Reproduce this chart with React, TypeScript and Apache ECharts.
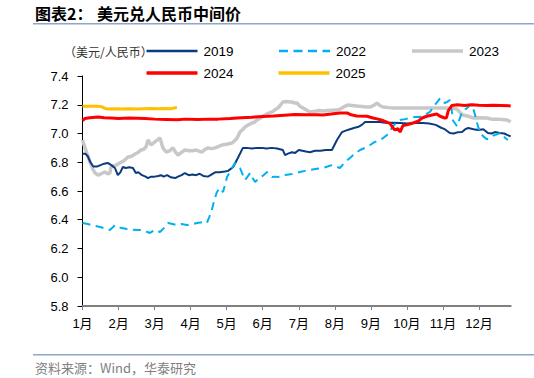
import React, { useEffect, useRef } from "react";
import * as echarts from "echarts";

// x = month index (0 = start of Jan, 11 = start of Dec), y = USD/CNY central parity
const monthLabels = ["1月", "2月", "3月", "4月", "5月", "6月", "7月", "8月", "9月", "10月", "11月", "12月"];
const yTicks = [5.8, 6.0, 6.2, 6.4, 6.6, 6.8, 7.0, 7.2, 7.4];
const seriesNames = ["2019", "2022", "2023", "2024", "2025"];

const s2019: [number, number][] = [
  [0, 6.86], [0.08, 6.86], [0.15, 6.84], [0.22, 6.8], [0.3, 6.77], [0.4, 6.77], [0.5, 6.78], [0.6, 6.79],
  [0.7, 6.795], [0.8, 6.78], [0.9, 6.76], [0.98, 6.71], [1.05, 6.73], [1.12, 6.767], [1.2, 6.76], [1.3, 6.765],
  [1.4, 6.76], [1.48, 6.725], [1.55, 6.73], [1.65, 6.71], [1.75, 6.7], [1.82, 6.69], [1.9, 6.7], [2.0, 6.7],
  [2.1, 6.705], [2.18, 6.71], [2.25, 6.7], [2.35, 6.71], [2.45, 6.695], [2.57, 6.69], [2.65, 6.7], [2.75, 6.71],
  [2.84, 6.725], [2.95, 6.71], [3.05, 6.715], [3.15, 6.71], [3.25, 6.72], [3.35, 6.705], [3.48, 6.7], [3.55, 6.71],
  [3.68, 6.73], [3.8, 6.73], [3.95, 6.735], [4.04, 6.74], [4.18, 6.767], [4.31, 6.83], [4.45, 6.9], [4.55, 6.9],
  [4.7, 6.895], [4.85, 6.9], [4.98, 6.9], [5.1, 6.895], [5.25, 6.9], [5.4, 6.895], [5.56, 6.885], [5.62, 6.85],
  [5.7, 6.86], [5.81, 6.87], [5.9, 6.865], [6.0, 6.885], [6.1, 6.88], [6.2, 6.875], [6.31, 6.87], [6.45, 6.88],
  [6.6, 6.88], [6.75, 6.885], [6.92, 6.885], [7.06, 6.955], [7.2, 7.01], [7.3, 7.02], [7.42, 7.03], [7.55, 7.04],
  [7.64, 7.045], [7.75, 7.06], [7.84, 7.08], [8.0, 7.08], [8.25, 7.08], [8.45, 7.073], [8.6, 7.075], [8.81, 7.073],
  [9.0, 7.07], [9.2, 7.073], [9.45, 7.073], [9.62, 7.07], [9.8, 7.06], [9.95, 7.04], [10.05, 7.03], [10.19, 7.003],
  [10.3, 7.0], [10.4, 7.008], [10.53, 7.01], [10.62, 7.03], [10.7, 7.038], [10.85, 7.03], [10.98, 7.024],
  [11.12, 7.03], [11.25, 7.003], [11.35, 7.0], [11.44, 7.01], [11.58, 7.003], [11.7, 7.0], [11.78, 6.99], [11.88, 6.98],
];

const s2022: [number, number][] = [
  [0, 6.377], [0.15, 6.37], [0.3, 6.36], [0.49, 6.35], [0.62, 6.34], [0.76, 6.329], [0.85, 6.35], [0.9, 6.363],
  [1.05, 6.345], [1.23, 6.336], [1.4, 6.33], [1.6, 6.329], [1.75, 6.32], [1.87, 6.308], [2.01, 6.329], [2.15, 6.315],
  [2.25, 6.34], [2.37, 6.377], [2.5, 6.37], [2.62, 6.363], [2.75, 6.37], [2.9, 6.363], [3.05, 6.37], [3.18, 6.377],
  [3.34, 6.384], [3.45, 6.377], [3.52, 6.42], [3.59, 6.47], [3.66, 6.54], [3.73, 6.593], [3.81, 6.621], [3.9, 6.593],
  [4.01, 6.697], [4.15, 6.76], [4.23, 6.795], [4.3, 6.78], [4.37, 6.76], [4.45, 6.71], [4.51, 6.677], [4.58, 6.7],
  [4.65, 6.725], [4.72, 6.69], [4.79, 6.663], [4.86, 6.68], [4.92, 6.69], [5.02, 6.71], [5.12, 6.732], [5.2, 6.71],
  [5.26, 6.697], [5.34, 6.7], [5.42, 6.697], [5.52, 6.705], [5.62, 6.711], [5.72, 6.715], [5.81, 6.718], [5.92, 6.725],
  [6.03, 6.732], [6.17, 6.74], [6.31, 6.746], [6.5, 6.755], [6.67, 6.76], [6.8, 6.77], [6.92, 6.78], [7.03, 6.77],
  [7.14, 6.76], [7.28, 6.8], [7.42, 6.83], [7.56, 6.86], [7.7, 6.885], [7.84, 6.9], [7.98, 6.92], [8.1, 6.94],
  [8.25, 6.955], [8.35, 6.97], [8.45, 6.99], [8.52, 7.01], [8.58, 7.038], [8.65, 7.06], [8.72, 7.08], [8.81, 7.094],
  [8.95, 7.1], [9.1, 7.108], [9.22, 7.115], [9.36, 7.115], [9.5, 7.13], [9.64, 7.15], [9.75, 7.19], [9.86, 7.225],
  [9.92, 7.245], [9.98, 7.225], [10.05, 7.212], [10.12, 7.22], [10.19, 7.233], [10.25, 7.15], [10.28, 7.09],
  [10.33, 7.073], [10.39, 7.05], [10.46, 7.1], [10.53, 7.15], [10.6, 7.165], [10.67, 7.177], [10.75, 7.2],
  [10.8, 7.198], [10.85, 7.165], [10.89, 7.13], [10.95, 7.07], [11.03, 7.005], [11.12, 6.98], [11.22, 6.96],
  [11.3, 6.97], [11.39, 6.985], [11.5, 6.995], [11.58, 7.003], [11.64, 7.0], [11.72, 6.97], [11.8, 6.955],
];

const s2023: [number, number][] = [
  [0, 6.955], [0.07, 6.9], [0.14, 6.85], [0.21, 6.8], [0.29, 6.75], [0.35, 6.725], [0.43, 6.711], [0.52, 6.72],
  [0.62, 6.732], [0.7, 6.72], [0.76, 6.725], [0.79, 6.767], [0.86, 6.775], [0.93, 6.78], [1.0, 6.79], [1.07, 6.8],
  [1.15, 6.81], [1.26, 6.836], [1.35, 6.84], [1.46, 6.857], [1.55, 6.87], [1.62, 6.885], [1.7, 6.89], [1.76, 6.906],
  [1.82, 6.955], [1.9, 6.92], [2.0, 6.94], [2.08, 6.955], [2.15, 6.969], [2.23, 6.9], [2.32, 6.871], [2.42, 6.88],
  [2.51, 6.9], [2.58, 6.87], [2.65, 6.85], [2.75, 6.87], [2.84, 6.885], [2.95, 6.88], [3.05, 6.88], [3.15, 6.885],
  [3.31, 6.871], [3.4, 6.89], [3.48, 6.9], [3.58, 6.895], [3.68, 6.9], [3.78, 6.91], [3.87, 6.92], [4.0, 6.925],
  [4.15, 6.934], [4.22, 6.95], [4.29, 6.969], [4.37, 7.01], [4.45, 7.03], [4.51, 7.045], [4.6, 7.06], [4.7, 7.073],
  [4.78, 7.08], [4.84, 7.094], [4.95, 7.11], [5.06, 7.129], [5.15, 7.14], [5.26, 7.15], [5.34, 7.165], [5.42, 7.177],
  [5.5, 7.2], [5.56, 7.219], [5.65, 7.222], [5.76, 7.219], [5.81, 7.219], [5.89, 7.212], [5.95, 7.212], [6.03, 7.19],
  [6.12, 7.177], [6.2, 7.165], [6.31, 7.15], [6.45, 7.155], [6.56, 7.16], [6.67, 7.157], [6.8, 7.16], [6.95, 7.162],
  [7.06, 7.163], [7.15, 7.17], [7.25, 7.185], [7.36, 7.198], [7.48, 7.195], [7.61, 7.191], [7.75, 7.188],
  [7.88, 7.185], [7.98, 7.184], [8.08, 7.195], [8.17, 7.212], [8.25, 7.195], [8.34, 7.184], [8.5, 7.18],
  [8.65, 7.178], [8.81, 7.177], [9.0, 7.177], [9.2, 7.178], [9.4, 7.177], [9.64, 7.177], [9.85, 7.177],
  [10.05, 7.177], [10.25, 7.175], [10.39, 7.17], [10.46, 7.15], [10.55, 7.129], [10.7, 7.12], [10.83, 7.108],
  [11.0, 7.11], [11.22, 7.108], [11.35, 7.1], [11.5, 7.1], [11.65, 7.098], [11.78, 7.094], [11.88, 7.082],
];

const s2024: [number, number][] = [
  [0, 7.09], [0.07, 7.105], [0.2, 7.11], [0.43, 7.115], [0.6, 7.11], [0.79, 7.108], [1.0, 7.105], [1.3, 7.108],
  [1.73, 7.105], [2.0, 7.1], [2.3, 7.098], [2.65, 7.095], [2.84, 7.1], [3.2, 7.098], [3.5, 7.1], [3.76, 7.1],
  [4.1, 7.105], [4.4, 7.11], [4.7, 7.113], [5.0, 7.118], [5.3, 7.122], [5.6, 7.127], [5.89, 7.132], [6.2, 7.13],
  [6.5, 7.13], [6.67, 7.129], [6.9, 7.135], [7.14, 7.143], [7.34, 7.143], [7.45, 7.13], [7.61, 7.122], [7.89, 7.12],
  [8.06, 7.108], [8.2, 7.1], [8.34, 7.09], [8.53, 7.07], [8.61, 7.04], [8.67, 7.024], [8.75, 7.035], [8.81, 7.01],
  [8.89, 7.055], [9.0, 7.06], [9.17, 7.073], [9.31, 7.085], [9.42, 7.108], [9.55, 7.12], [9.7, 7.129], [9.83, 7.135],
  [9.92, 7.12], [10.05, 7.108], [10.1, 7.11], [10.15, 7.16], [10.25, 7.195], [10.4, 7.2], [10.6, 7.195], [10.8, 7.2],
  [11.0, 7.197], [11.2, 7.195], [11.4, 7.197], [11.6, 7.195], [11.88, 7.192],
];

const s2025: [number, number][] = [
  [0, 7.19], [0.2, 7.19], [0.4, 7.19], [0.53, 7.187], [0.62, 7.175], [0.7, 7.17], [0.9, 7.172], [1.1, 7.17],
  [1.3, 7.172], [1.5, 7.17], [1.7, 7.172], [1.9, 7.174], [2.1, 7.172], [2.3, 7.174], [2.45, 7.172], [2.55, 7.178],
  [2.62, 7.182],
];

const colors: Record<string, string> = {
  "2019": "#0B3B7E",
  "2022": "#00B0F0",
  "2023": "#C8C8C8",
  "2024": "#FF0000",
  "2025": "#FFC000",
};

const FONT = "'Liberation Sans', 'Noto Sans CJK SC', sans-serif";
const CJK = "'Noto Sans CJK SC', sans-serif";

export default function App() {
  const ref = useRef<HTMLDivElement>(null);
  useEffect(() => {
    if (!ref.current) return;
    const chart = echarts.init(ref.current, undefined, { renderer: "svg" });
    const monthIdx = monthLabels.map((_, i) => i);
    const widths: Record<string, number> = { "2019": 2, "2022": 2, "2023": 3.5, "2024": 3, "2025": 3 };
    const dataMap: Record<string, [number, number][]> = {
      "2019": s2019, "2022": s2022, "2023": s2023, "2024": s2024, "2025": s2025,
    };
    const drawOrder = ["2023", "2019", "2022", "2024", "2025"];

    const legendPos: Record<string, [number, number]> = {
      "2019": [146.5, 51], "2022": [279, 51], "2023": [412, 51],
      "2024": [146.5, 73], "2025": [278.5, 73],
    };
    const legendGraphics: any[] = [];
    seriesNames.forEach((n) => {
      const [x0, y] = legendPos[n];
      legendGraphics.push({
        type: "line",
        shape: { x1: x0, y1: y, x2: x0 + 51, y2: y },
        style: {
          stroke: colors[n],
          lineWidth: n === "2019" || n === "2022" ? 2.5 : 3.5,
          lineDash: n === "2022" ? [9, 5.5] : null,
        },
      });
      legendGraphics.push({
        type: "text",
        x: x0 + 57,
        y,
        style: {
          text: n, font: `13.5px ${FONT}`, fill: "#000",
          verticalAlign: "middle", align: "left",
        },
      });
    });

    chart.setOption({
      animation: false,
      grid: { left: 82.5, right: 23.3, top: 76, bottom: 72 },
      xAxis: {
        type: "value",
        min: 0,
        max: 11.88,
        interval: 1,
        axisLine: { show: true, lineStyle: { color: "#808080", width: 2 } },
        axisTick: { show: true, length: 4, customValues: monthIdx, lineStyle: { color: "#808080" } },
        axisLabel: {
          customValues: monthIdx,
          formatter: (v: number) => monthLabels[Math.round(v)] ?? "",
          fontSize: 13, color: "#000", fontFamily: FONT, margin: 11,
        },
        splitLine: { show: false },
      },
      yAxis: {
        type: "value",
        min: yTicks[0],
        max: yTicks[yTicks.length - 1],
        interval: 0.2,
        axisLine: { show: true, lineStyle: { color: "#000", width: 1 } },
        axisTick: { show: true, length: 5, lineStyle: { color: "#000" } },
        axisLabel: {
          formatter: (v: number) => v.toFixed(1),
          fontSize: 13, color: "#000", fontFamily: FONT, margin: 14,
        },
        splitLine: { show: false },
      },
      series: drawOrder.map((n) => ({
        name: n,
        type: "line",
        data: dataMap[n],
        symbol: "none",
        showSymbol: false,
        smooth: false,
        clip: false,
        lineStyle: {
          color: colors[n],
          width: widths[n],
          type: n === "2022" ? [8, 5.5] : "solid",
        },
        itemStyle: { color: colors[n] },
      })),
      graphic: [
        { type: "text", left: 35, top: 5, style: { text: "图表2：", font: `bold 16px ${CJK}`, fill: "#000" } },
        { type: "text", left: 97, top: 5, style: { text: "美元兑人民币中间价", font: `bold 16px ${CJK}`, fill: "#000" } },
        { type: "rect", shape: { x: 33, y: 23, width: 501, height: 1.5 }, style: { fill: "#8DA7C7" } },
        { type: "text", left: 64, top: 45, style: { text: "（美元/人民币）", font: `12px ${CJK}`, fill: "#333" } },
        { type: "rect", shape: { x: 33, y: 354, width: 501, height: 1.5 }, style: { fill: "#8DA7C7" } },
        { type: "text", left: 35, top: 361, style: { text: "资料来源：Wind，华泰研究", font: `13px ${CJK}`, fill: "#808080" } },
        ...legendGraphics,
      ],
    });
    return () => chart.dispose();
  }, []);
  return (
    <div
      ref={ref}
      style={{ position: "absolute", left: 0, top: 0, width: 534, height: 378, background: "#fff" }}
    />
  );
}
